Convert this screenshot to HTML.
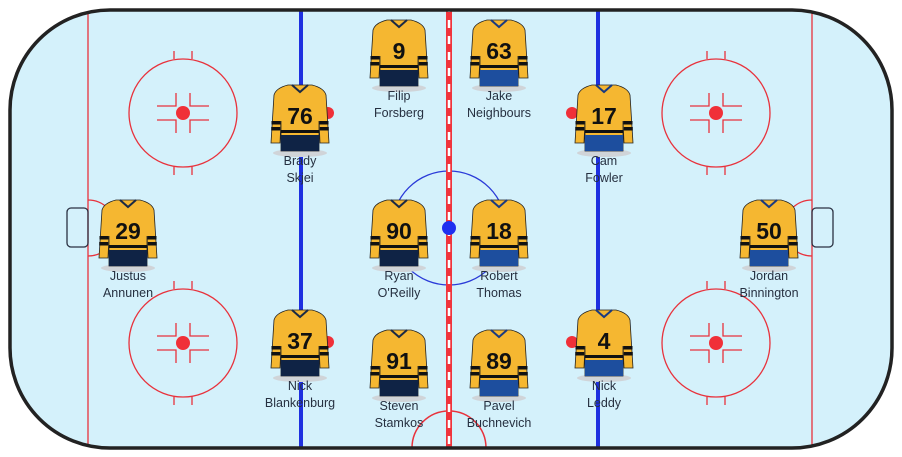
<!DOCTYPE html>
<html><head><meta charset="utf-8"><style>
html,body{margin:0;padding:0;background:#fff;width:902px;height:457px;overflow:hidden}
svg{display:block}
text{font-family:"Liberation Sans","DejaVu Sans",sans-serif}
.nm{font-size:12.5px;fill:#263040;text-anchor:middle}
.num{font-size:23px;font-weight:bold;fill:#111;text-anchor:middle}
</style></head><body>
<svg width="902" height="457" viewBox="0 0 902 457" xmlns="http://www.w3.org/2000/svg">
<defs>
<clipPath id="rk"><rect x="10" y="10" width="882" height="438" rx="100" ry="100"/></clipPath>
<path id="jp" d="M-12,0 L12,0 Q24,3 26,10 L29,58 L20,58 L19,36 L19,66 L-19,66 L-19,36 L-20,58 L-29,58 L-26,10 Q-24,3 -12,0 Z"/>
<g id="jA">
<ellipse cx="0" cy="68" rx="27" ry="4" fill="#d0d4d8"/>
<use href="#jp" fill="#f5b731" stroke="#222" stroke-width="0.8"/>
<path d="M-8,0 L0,7 L8,0" fill="none" stroke="#1a2a45" stroke-width="2"/>
<rect x="-19" y="50" width="38" height="16" fill="#0f2345"/>
<rect x="-19" y="45" width="38" height="3" fill="#111"/>
<rect x="-28.5" y="36" width="9" height="3.5" fill="#111"/><rect x="-28.8" y="42" width="9" height="3.5" fill="#111"/>
<rect x="19.5" y="36" width="9" height="3.5" fill="#111"/><rect x="19.8" y="42" width="9" height="3.5" fill="#111"/>
</g>
<g id="jB">
<ellipse cx="0" cy="68" rx="27" ry="4" fill="#d0d4d8"/>
<use href="#jp" fill="#f5b731" stroke="#222" stroke-width="0.8"/>
<path d="M-8,0 L0,7 L8,0" fill="none" stroke="#1a3a80" stroke-width="2"/>
<rect x="-19" y="50" width="38" height="16" fill="#1d4e9e"/>
<rect x="-19" y="45" width="38" height="3" fill="#111"/>
<rect x="-28.5" y="36" width="9" height="3.5" fill="#111"/><rect x="-28.8" y="42" width="9" height="3.5" fill="#111"/>
<rect x="19.5" y="36" width="9" height="3.5" fill="#111"/><rect x="19.8" y="42" width="9" height="3.5" fill="#111"/>
</g>
<g id="fo">
<circle r="54" fill="none" stroke="#e8323c" stroke-width="1.3"/>
<circle r="7" fill="#f03038"/>
<path d="M-26,-7 H-7 V-20 M26,-7 H7 V-20 M-26,7 H-7 V20 M26,7 H7 V20 M-9,-54 V-62 M9,-54 V-62 M-9,54 V62 M9,54 V62" fill="none" stroke="#e8323c" stroke-width="1.3"/>
</g>
</defs>
<rect x="10" y="10" width="882" height="438" rx="100" ry="100" fill="#d4f1fb"/>
<g clip-path="url(#rk)">
<line x1="88" y1="0" x2="88" y2="457" stroke="#e8323c" stroke-width="1.3"/>
<line x1="812" y1="0" x2="812" y2="457" stroke="#e8323c" stroke-width="1.3"/>
<path d="M88,200 A28,28 0 0 1 88,256" fill="none" stroke="#e8323c" stroke-width="1.3"/>
<path d="M812,200 A28,28 0 0 0 812,256" fill="none" stroke="#e8323c" stroke-width="1.3"/>
<use href="#fo" x="183" y="113"/><use href="#fo" x="183" y="343"/>
<use href="#fo" x="716" y="113"/><use href="#fo" x="716" y="343"/>
<circle cx="449" cy="228" r="57" fill="none" stroke="#2a3ad8" stroke-width="1.3"/>
<circle cx="449" cy="448" r="37" fill="none" stroke="#e8323c" stroke-width="1.5"/>
<rect x="299" y="0" width="4" height="457" fill="#1e30e0"/>
<rect x="596" y="0" width="4" height="457" fill="#1e30e0"/>
<rect x="446" y="0" width="6" height="457" fill="#f0343c"/>
<line x1="449" y1="4" x2="449" y2="457" stroke="#fff" stroke-width="2.5" stroke-dasharray="8,8"/>
<circle cx="449" cy="228" r="7" fill="#1e30f0"/>
</g>
<rect x="67" y="208" width="21" height="39" rx="4" fill="none" stroke="#2a3142" stroke-width="1.3"/>
<rect x="812" y="208" width="21" height="39" rx="4" fill="none" stroke="#2a3142" stroke-width="1.3"/>
<rect x="10" y="10" width="882" height="438" rx="100" ry="100" fill="none" stroke="#222" stroke-width="3.5"/>
<circle cx="328" cy="113" r="6" fill="#f03038"/><circle cx="572" cy="113" r="6" fill="#f03038"/>
<circle cx="328" cy="342" r="6" fill="#f03038"/><circle cx="572" cy="342" r="6" fill="#f03038"/>

<use href="#jA" x="399" y="20"/><text class="num" x="399" y="59">9</text>
<text class="nm" x="399" y="100">Filip</text><text class="nm" x="399" y="117">Forsberg</text>
<use href="#jB" x="499" y="20"/><text class="num" x="499" y="59">63</text>
<text class="nm" x="499" y="100">Jake</text><text class="nm" x="499" y="117">Neighbours</text>
<use href="#jA" x="300" y="85"/><text class="num" x="300" y="124">76</text>
<text class="nm" x="300" y="165">Brady</text><text class="nm" x="300" y="182">Skjei</text>
<use href="#jB" x="604" y="85"/><text class="num" x="604" y="124">17</text>
<text class="nm" x="604" y="165">Cam</text><text class="nm" x="604" y="182">Fowler</text>
<use href="#jA" x="128" y="200"/><text class="num" x="128" y="239">29</text>
<text class="nm" x="128" y="280">Justus</text><text class="nm" x="128" y="297">Annunen</text>
<use href="#jA" x="399" y="200"/><text class="num" x="399" y="239">90</text>
<text class="nm" x="399" y="280">Ryan</text><text class="nm" x="399" y="297">O'Reilly</text>
<use href="#jB" x="499" y="200"/><text class="num" x="499" y="239">18</text>
<text class="nm" x="499" y="280">Robert</text><text class="nm" x="499" y="297">Thomas</text>
<use href="#jB" x="769" y="200"/><text class="num" x="769" y="239">50</text>
<text class="nm" x="769" y="280">Jordan</text><text class="nm" x="769" y="297">Binnington</text>
<use href="#jA" x="300" y="310"/><text class="num" x="300" y="349">37</text>
<text class="nm" x="300" y="390">Nick</text><text class="nm" x="300" y="407">Blankenburg</text>
<use href="#jB" x="604" y="310"/><text class="num" x="604" y="349">4</text>
<text class="nm" x="604" y="390">Nick</text><text class="nm" x="604" y="407">Leddy</text>
<use href="#jA" x="399" y="330"/><text class="num" x="399" y="369">91</text>
<text class="nm" x="399" y="410">Steven</text><text class="nm" x="399" y="427">Stamkos</text>
<use href="#jB" x="499" y="330"/><text class="num" x="499" y="369">89</text>
<text class="nm" x="499" y="410">Pavel</text><text class="nm" x="499" y="427">Buchnevich</text>
</svg>
</body></html>
